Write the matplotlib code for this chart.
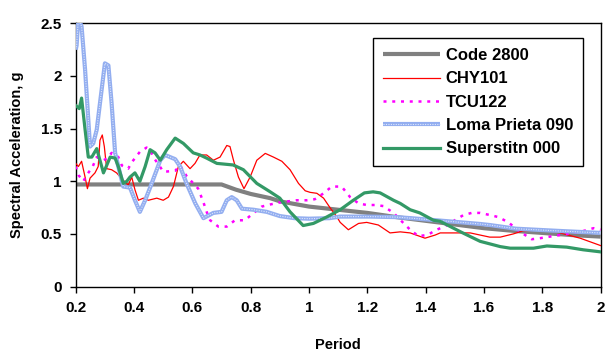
import matplotlib
matplotlib.use("Agg")
import matplotlib.pyplot as plt

plt.rcParams['font.family'] = ['Liberation Sans', 'DejaVu Sans']
plt.rcParams['font.weight'] = 'bold'

# ---- data: spectral acceleration (g) versus period (s) ----
code_T = [0.2, 0.7, 0.75, 0.8, 0.867, 0.9, 1.0, 1.1, 1.2, 1.3, 1.4, 1.5, 1.6, 1.7, 1.8, 1.9, 2.0]
code_v = [0.97, 0.97, 0.92, 0.88, 0.84, 0.81, 0.76, 0.73, 0.70, 0.66, 0.625, 0.59, 0.555, 0.53, 0.51, 0.49, 0.475]

chy_T = [0.200, 0.209, 0.220, 0.232, 0.240, 0.249, 0.266, 0.277, 0.283, 0.291, 0.298, 0.306,
         0.323, 0.340, 0.363, 0.380, 0.392, 0.403, 0.415, 0.432, 0.449, 0.478, 0.500, 0.518,
         0.535, 0.552, 0.569, 0.592, 0.609, 0.626, 0.649, 0.672, 0.695, 0.718, 0.729, 0.741,
         0.758, 0.777, 0.798, 0.821, 0.850, 0.878, 0.907, 0.935, 0.964, 0.987, 1.004, 1.027,
         1.050, 1.072, 1.095, 1.107, 1.135, 1.170, 1.198, 1.238, 1.278, 1.313, 1.347, 1.398,
         1.433, 1.450, 1.553, 1.620, 1.656, 1.700, 1.735, 1.815, 1.861, 1.930, 2.000]
chy_v = [1.17, 1.14, 1.19, 1.04, 0.93, 1.03, 1.08, 1.14, 1.39, 1.44, 1.33, 1.12,
         1.11, 1.08, 1.01, 0.965, 1.04, 0.92, 0.82, 0.84, 0.82, 0.84, 0.82, 0.85,
         0.95, 1.14, 1.19, 1.12, 1.17, 1.25, 1.25, 1.20, 1.23, 1.34, 1.33, 1.20,
         1.04, 0.93, 1.04, 1.20, 1.265, 1.23, 1.19, 1.11, 0.98, 0.91, 0.895, 0.886,
         0.84, 0.75, 0.665, 0.61, 0.54, 0.60, 0.61, 0.585, 0.51, 0.52, 0.51, 0.46,
         0.49, 0.51, 0.51, 0.47, 0.47, 0.50, 0.53, 0.54, 0.51, 0.46, 0.39]

tcu_T = [0.200, 0.209, 0.226, 0.238, 0.258, 0.272, 0.295, 0.310, 0.323, 0.346, 0.358, 0.380,
         0.392, 0.420, 0.443, 0.455, 0.466, 0.501, 0.541, 0.558, 0.580, 0.620, 0.638, 0.649,
         0.661, 0.689, 0.718, 0.746, 0.780, 0.806, 0.838, 0.867, 0.900, 0.929, 0.958, 0.992,
         1.020, 1.050, 1.078, 1.112, 1.141, 1.170, 1.198, 1.227, 1.255, 1.290, 1.318, 1.347,
         1.375, 1.406, 1.438, 1.467, 1.500, 1.530, 1.558, 1.587, 1.620, 1.650, 1.684, 1.724,
         1.764, 1.793, 1.827, 1.861, 1.930, 1.976, 2.000]
tcu_v = [1.14, 1.06, 1.00, 1.06, 1.14, 1.23, 1.20, 1.22, 1.27, 1.23, 1.15, 1.12,
         1.18, 1.28, 1.32, 1.30, 1.23, 1.09, 1.10, 1.15, 1.05, 0.93, 0.80, 0.71,
         0.63, 0.57, 0.57, 0.63, 0.63, 0.69, 0.76, 0.78, 0.80, 0.81, 0.82, 0.82,
         0.83, 0.886, 0.95, 0.95, 0.85, 0.79, 0.775, 0.775, 0.765, 0.70, 0.62, 0.54,
         0.48, 0.49, 0.54, 0.575, 0.63, 0.68, 0.70, 0.70, 0.68, 0.66, 0.61, 0.52,
         0.45, 0.46, 0.475, 0.49, 0.52, 0.555, 0.54]

loma_T = [0.200, 0.203, 0.209, 0.220, 0.232, 0.249, 0.260, 0.272, 0.283, 0.300, 0.312, 0.323,
          0.335, 0.346, 0.363, 0.386, 0.403, 0.420, 0.438, 0.455, 0.490, 0.506, 0.541, 0.558,
          0.580, 0.610, 0.638, 0.672, 0.700, 0.718, 0.735, 0.752, 0.770, 0.810, 0.855, 0.900,
          0.950, 1.000, 1.070, 1.107, 1.210, 1.300, 1.350, 1.480, 1.587, 1.620, 1.710, 1.850,
          2.000]
loma_v = [2.25, 2.29, 2.55, 2.47, 2.06, 1.33, 1.36, 1.49, 1.74, 2.12, 2.10, 1.74,
          1.27, 1.14, 0.95, 0.94, 0.82, 0.71, 0.82, 0.94, 1.20, 1.25, 1.21, 1.14,
          0.98, 0.79, 0.65, 0.70, 0.71, 0.82, 0.85, 0.82, 0.74, 0.73, 0.71, 0.67,
          0.65, 0.645, 0.65, 0.665, 0.665, 0.66, 0.65, 0.62, 0.595, 0.585, 0.55, 0.53,
          0.51]

sup_T = [0.200, 0.212, 0.220, 0.232, 0.243, 0.255, 0.272, 0.283, 0.295, 0.306, 0.318, 0.335,
         0.346, 0.363, 0.375, 0.386, 0.403, 0.420, 0.438, 0.455, 0.472, 0.490, 0.512, 0.541,
         0.569, 0.603, 0.626, 0.649, 0.684, 0.740, 0.775, 0.821, 0.867, 0.900, 0.935, 0.980,
         1.015, 1.060, 1.107, 1.152, 1.190, 1.220, 1.244, 1.290, 1.313, 1.347, 1.380, 1.427,
         1.450, 1.520, 1.587, 1.656, 1.690, 1.770, 1.816, 1.884, 1.940, 2.000]
sup_v = [1.72, 1.69, 1.79, 1.49, 1.23, 1.23, 1.31, 1.20, 1.08, 1.15, 1.23, 1.22,
         1.14, 0.98, 1.00, 1.04, 1.08, 1.00, 1.14, 1.30, 1.27, 1.20, 1.30, 1.41,
         1.36, 1.27, 1.25, 1.22, 1.17, 1.155, 1.11, 0.98, 0.90, 0.84, 0.71, 0.58,
         0.60, 0.66, 0.73, 0.82, 0.89, 0.90, 0.89, 0.82, 0.79, 0.73, 0.70, 0.63,
         0.62, 0.52, 0.43, 0.38, 0.365, 0.365, 0.386, 0.375, 0.35, 0.33]

series_names = ['Code 2800', 'CHY101', 'TCU122', 'Loma Prieta 090', 'Superstitn 000']

x_ticks = [0.2, 0.4, 0.6, 0.8, 1.0, 1.2, 1.4, 1.6, 1.8, 2.0]
x_labels = ['0.2', '0.4', '0.6', '0.8', '1', '1.2', '1.4', '1.6', '1.8', '2']
y_ticks = [0, 0.5, 1.0, 1.5, 2.0, 2.5]
y_labels = ['0', '0.5', '1', '1.5', '2', '2.5']

# ---- figure ----
fig = plt.figure(figsize=(6.06, 3.53), dpi=100)
ax = fig.add_axes([0.125, 0.188, 0.866, 0.746])

h_code, = ax.plot(code_T, code_v, color='#808080', lw=3.0, solid_capstyle='butt', zorder=2)
h_chy, = ax.plot(chy_T, chy_v, color='#ff0000', lw=0.9, zorder=3)
h_tcu, = ax.plot(tcu_T, tcu_v, color='#ff00ff', lw=1.8, dashes=(1.2, 2.3),
                 dash_capstyle='butt', zorder=4)
h_loma, = ax.plot(loma_T, loma_v, color='#93aef0', lw=3.0, solid_capstyle='butt', zorder=5)
h_loma2, = ax.plot(loma_T, loma_v, color='#dfe8fc', lw=0.8, dashes=(1, 1.2), zorder=6)
h_sup, = ax.plot(sup_T, sup_v, color='#339966', lw=2.3, zorder=7)

ax.set_xlim(0.2, 2.0)
ax.set_ylim(0, 2.5)
ax.set_xticks(x_ticks)
ax.set_xticklabels(x_labels)
ax.set_yticks(y_ticks)
ax.set_yticklabels(y_labels)
ax.tick_params(direction='out', length=4, width=1, labelsize=11, pad=6)
for lab in ax.get_xticklabels() + ax.get_yticklabels():
    lab.set_fontweight('bold')
for sp in ax.spines.values():
    sp.set_linewidth(1.0)
    sp.set_color('black')

ax.set_xlabel('Period', fontsize=10.5, fontweight='bold', labelpad=17)
ax.set_ylabel('Spectral Acceleration, g', fontsize=10.5, fontweight='bold', labelpad=12)

leg = ax.legend([h_code, h_chy, h_tcu, (h_loma, h_loma2), h_sup], series_names,
                loc='upper right', bbox_to_anchor=(0.967, 0.944), borderaxespad=0,
                fancybox=False, frameon=True, edgecolor='black', framealpha=1,
                prop={'family': 'Liberation Sans', 'weight': 'bold', 'size': 12},
                handlelength=3.4, handletextpad=0.35, labelspacing=0.5,
                borderpad=0.6)
leg.get_frame().set_linewidth(1.0)

fig.savefig('out.png', dpi=100)
